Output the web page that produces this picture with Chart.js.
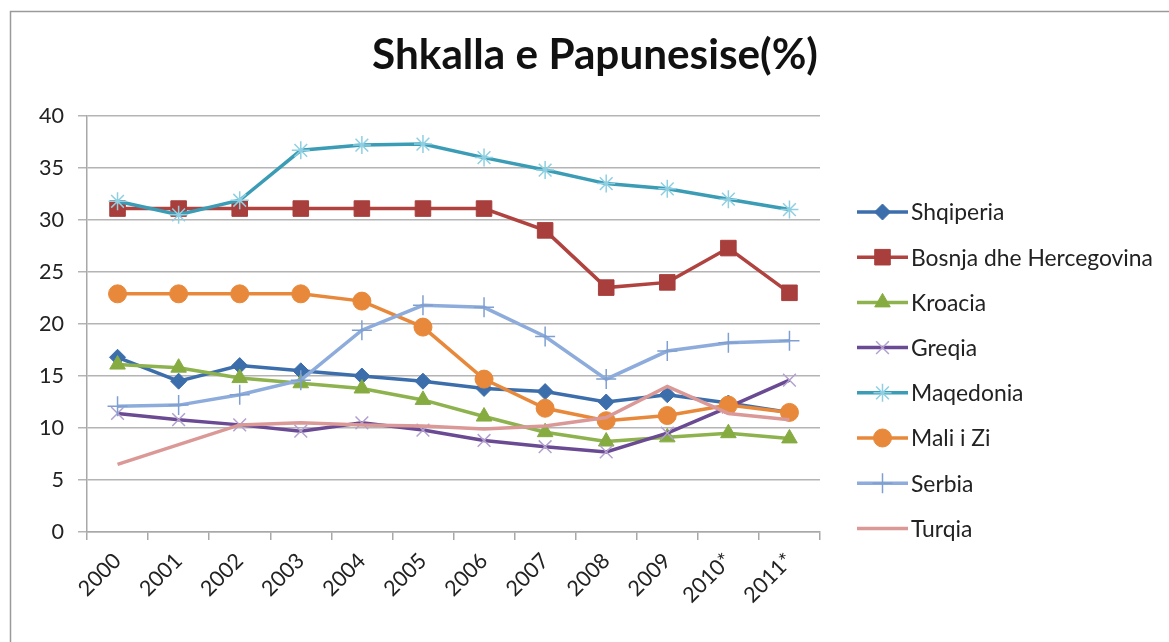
<!DOCTYPE html>
<html>
<head>
<meta charset="utf-8">
<script src="https://cdn.jsdelivr.net/npm/chart.js@4/dist/chart.umd.min.js"></script>
<style>
  html, body { margin: 0; padding: 0; background: #fff; }
  #wrap { width: 1169px; height: 642px; position: relative; }
  canvas { display: block; }
</style>
</head>
<body>
<div id="wrap"><canvas id="c" width="1169" height="642"></canvas></div>
<script>
const title = "Shkalla e Papunesise(%)";
const years = ["2000","2001","2002","2003","2004","2005","2006","2007","2008","2009","2010*","2011*"];
const yTicks = [0,5,10,15,20,25,30,35,40];

const seriesNames = ["Shqiperia","Bosnja dhe Hercegovina","Kroacia","Greqia","Maqedonia","Mali i Zi","Serbia","Turqia"];
const shqiperia  = [16.8,14.5,16.0,15.5,15.0,14.5,13.8,13.5,12.5,13.2,12.4,11.5];
const bosnja     = [31.1,31.1,31.1,31.1,31.1,31.1,31.1,29.0,23.5,24.0,27.3,23.0];
const kroacia    = [16.1,15.8,14.8,14.3,13.8,12.7,11.1,9.6,8.7,9.1,9.5,9.0];
const greqia     = [11.4,10.8,10.3,9.7,10.5,9.8,8.8,8.2,7.7,9.5,12.0,14.6];
const maqedonia  = [31.8,30.5,31.9,36.7,37.2,37.3,36.0,34.8,33.5,33.0,32.0,31.0];
const maliIZi    = [22.9,22.9,22.9,22.9,22.2,19.7,14.7,11.9,10.7,11.2,12.2,11.5];
const serbia     = [12.1,12.2,13.2,14.6,19.4,21.8,21.6,18.8,14.7,17.4,18.2,18.4];
const turqia     = [6.5,8.4,10.3,10.5,10.3,10.2,9.9,10.2,11.0,14.0,11.4,10.8];

const FONT = "Lato, 'Open Sans', 'DejaVu Sans', sans-serif";

// fit font sizes to the reference text widths
const mctx = document.createElement('canvas').getContext('2d');
function fit(text, weight, targetW) {
  mctx.font = weight + " 100px " + FONT;
  return 100 * targetW / mctx.measureText(text).width;
}
const titleSize = fit(title, "bold", 446);
const legendSize = fit("Bosnja dhe Hercegovina", "normal", 242);
const tickSize = fit("40", "normal", 25);

const styles = [
  {line:'#3C6EAB', pt:'#3C6EAB', ps:'rectRot', r:8, fill:true},
  {line:'#B0433F', pt:'#A83F3C', ps:'rect', r:11, fill:true},
  {line:'#8DB24E', pt:'#86AC41', ps:'triangle', r:9, fill:true},
  {line:'#6A4A92', pt:'#B3A0CF', ps:'crossRot', r:9, fill:false},
  {line:'#3B9CB6', pt:'#8ED0E2', ps:'star', r:9, fill:false},
  {line:'#E8883A', pt:'#E8883A', ps:'circle', r:9, fill:true},
  {line:'#8DACDB', pt:'#7F9FD0', ps:'cross', r:10, fill:false},
  {line:'#DA9896', pt:'#DA9896', ps:'circle', r:0, fill:true}
];
const allData = [shqiperia, bosnja, kroacia, greqia, maqedonia, maliIZi, serbia, turqia];

const datasets = allData.map((d, i) => ({
  label: seriesNames[i],
  data: d,
  borderColor: styles[i].line,
  backgroundColor: styles[i].pt,
  borderWidth: 3.5,
  pointStyle: styles[i].ps,
  pointRadius: styles[i].r,
  pointBackgroundColor: styles[i].pt,
  pointBorderColor: styles[i].pt,
  pointBorderWidth: styles[i].fill ? 1 : 1.5,
  tension: 0,
  order: 7 - i
}));

const framePlugin = {
  id: 'frame',
  beforeDraw(chart) {
    const ctx = chart.ctx;
    ctx.save();
    ctx.fillStyle = '#fff';
    ctx.fillRect(0, 0, chart.width, chart.height);
    ctx.strokeStyle = '#9a9a9a';
    ctx.lineWidth = 1.5;
    ctx.strokeRect(10.5, 11.5, 1169, 642);
    ctx.restore();
  },
  afterDraw(chart) {
    const ctx = chart.ctx;
    ctx.save();
    // title
    ctx.fillStyle = '#111';
    ctx.font = "bold " + titleSize + "px " + FONT;
    ctx.textAlign = 'center';
    ctx.textBaseline = 'alphabetic';
    ctx.fillText(title, 595, 69);
    // legend
    const x0 = 857, x1 = 908, yStart = 212, step = 45.2;
    ctx.font = legendSize + "px " + FONT;
    ctx.textAlign = 'left';
    ctx.textBaseline = 'middle';
    chart.data.datasets.forEach((ds, i) => {
      const y = yStart + i * step;
      ctx.strokeStyle = ds.borderColor;
      ctx.lineWidth = ds.borderWidth;
      ctx.beginPath();
      ctx.moveTo(x0, y);
      ctx.lineTo(x1, y);
      ctx.stroke();
      if (ds.pointRadius > 0) {
        ctx.fillStyle = ds.pointBackgroundColor;
        ctx.strokeStyle = ds.pointBorderColor;
        ctx.lineWidth = ds.pointBorderWidth;
        Chart.helpers.drawPoint(ctx, {
          pointStyle: ds.pointStyle,
          rotation: 0,
          radius: ds.pointRadius,
          borderWidth: ds.pointBorderWidth
        }, (x0 + x1) / 2, y);
      }
      ctx.fillStyle = '#222';
      ctx.fillText(ds.label, 911, y + 1);
    });
    ctx.restore();
  }
};

new Chart(document.getElementById('c'), {
  type: 'line',
  data: { labels: years, datasets },
  options: {
    responsive: false,
    animation: false,
    devicePixelRatio: 1,
    layout: { padding: { left: 0, top: 116, right: 349, bottom: 10 } },
    plugins: { legend: { display: false }, title: { display: false }, tooltip: { enabled: false } },
    scales: {
      x: {
        offset: true,
        grid: { offset: true, drawOnChartArea: false, drawTicks: true, tickLength: 8, color: '#a8a8a8', lineWidth: 1.5 },
        border: { color: '#a8a8a8', width: 1.5 },
        ticks: { minRotation: 45, maxRotation: 45, color: '#222', font: { family: FONT, size: tickSize }, padding: 8 },
        afterFit(s) { s.height = 100; }
      },
      y: {
        min: 0, max: 40,
        afterBuildTicks(s) { s.ticks = yTicks.map(v => ({ value: v })); },
        grid: { color: '#b4b4b4', lineWidth: 1.5, tickLength: 9 },
        border: { color: '#a8a8a8', width: 1.5 },
        ticks: { color: '#222', font: { family: FONT, size: tickSize }, padding: 14 },
        afterFit(s) { s.width = 87; }
      }
    }
  },
  plugins: [framePlugin]
});
</script>
</body>
</html>
